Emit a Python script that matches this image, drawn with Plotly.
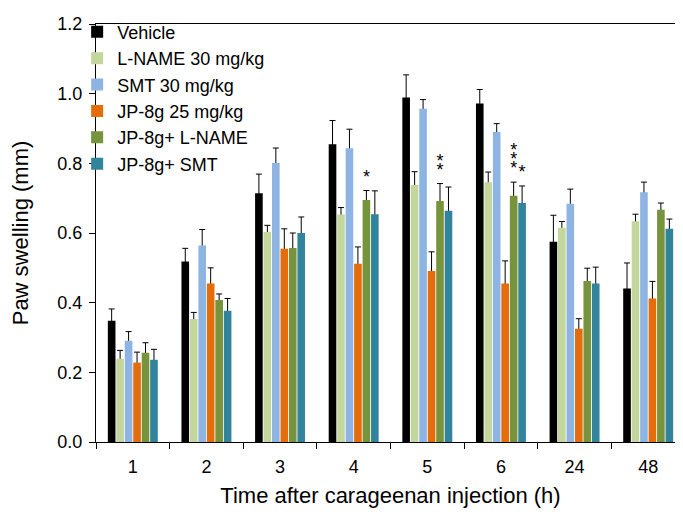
import plotly.graph_objects as go

# time points (h)
hours = ["1", "2", "3", "4", "5", "6", "24", "48"]

vehicle = [0.348, 0.518, 0.714, 0.855, 0.989, 0.972, 0.575, 0.441]
vehicle_err = [0.034, 0.038, 0.055, 0.068, 0.065, 0.040, 0.076, 0.073]

lname = [0.239, 0.353, 0.603, 0.653, 0.738, 0.746, 0.615, 0.634]
lname_err = [0.024, 0.019, 0.019, 0.020, 0.038, 0.029, 0.018, 0.020]

smt = [0.291, 0.564, 0.801, 0.843, 0.957, 0.890, 0.684, 0.717]
smt_err = [0.026, 0.046, 0.043, 0.055, 0.026, 0.024, 0.042, 0.029]

jp8g = [0.228, 0.455, 0.555, 0.512, 0.491, 0.455, 0.325, 0.412]
jp8g_err = [0.030, 0.045, 0.057, 0.048, 0.055, 0.065, 0.029, 0.049]

jp_lname = [0.256, 0.408, 0.557, 0.695, 0.692, 0.707, 0.462, 0.667]
jp_lname_err = [0.029, 0.017, 0.043, 0.027, 0.050, 0.039, 0.037, 0.019]

jp_smt = [0.236, 0.377, 0.600, 0.654, 0.664, 0.686, 0.455, 0.612]
jp_smt_err = [0.030, 0.035, 0.046, 0.067, 0.068, 0.049, 0.047, 0.028]

# number of significance asterisks above each bar
no_sig = [0, 0, 0, 0, 0, 0, 0, 0]
jp_lname_sig = [0, 0, 0, 1, 2, 3, 0, 0]
jp_smt_sig = [0, 0, 0, 0, 0, 1, 0, 0]

series = [
    ("Vehicle", vehicle, vehicle_err, no_sig, "#000000"),
    ("L-NAME 30 mg/kg", lname, lname_err, no_sig, "#C3D69B"),
    ("SMT 30 mg/kg", smt, smt_err, no_sig, "#8EB4E3"),
    ("JP-8g 25 mg/kg", jp8g, jp8g_err, no_sig, "#E46C0A"),
    ("JP-8g+ L-NAME", jp_lname, jp_lname_err, jp_lname_sig, "#77933C"),
    ("JP-8g+ SMT", jp_smt, jp_smt_err, jp_smt_sig, "#31849B"),
]

FONT = "Arial, Liberation Sans, sans-serif"
STAR_DROP = -0.002
STAR_STEP = 0.026

fig = go.Figure()
for i, (name, vals, errs, sig, color) in enumerate(series):
    tops = [v + e for v, e in zip(vals, errs)]
    # invisible carrier for the upper error bar (stem hidden behind the real bar)
    fig.add_trace(go.Bar(
        x=hours, y=tops, offsetgroup=str(i), showlegend=False, hoverinfo="skip",
        marker=dict(color="rgba(0,0,0,0)", line=dict(width=0)),
        error_y=dict(type="data", symmetric=False, array=[0] * len(vals),
                     arrayminus=[t + 0.05 for t in tops],
                     color="#000000", thickness=1, width=3),
    ))
    # visible bars
    fig.add_trace(go.Bar(
        x=hours, y=vals, name=name, offsetgroup=str(i),
        marker=dict(color=color, line=dict(width=0)),
    ))
    # stacked asterisks
    for k in range(max(sig)):
        fig.add_trace(go.Bar(
            x=hours, y=[t - STAR_DROP + k * STAR_STEP for t in tops],
            offsetgroup=str(i), showlegend=False, hoverinfo="skip",
            marker=dict(color="rgba(0,0,0,0)", line=dict(width=0)),
            text=["*" if s > k else "" for s in sig],
            textposition="outside", textangle=0, constraintext="none",
            cliponaxis=False,
            textfont=dict(family=FONT, size=18, color="#000000"),
        ))

fig.update_layout(
    width=683, height=516,
    margin=dict(l=88, r=6, t=13, b=82),
    paper_bgcolor="white", plot_bgcolor="white",
    barmode="group", bargap=0.31, bargroupgap=0.1,
    font=dict(family=FONT, size=18, color="#000000"),
    legend=dict(x=-0.032, y=1.025, xanchor="left", yanchor="top",
                bgcolor="rgba(0,0,0,0)", font=dict(size=18),
                itemwidth=30, tracegroupgap=0),
    showlegend=True,
)

fig.update_xaxes(
    type="category", showline=True, linecolor="#000000", linewidth=1, mirror=True,
    ticks="outside", tickson="boundaries", ticklen=6, tickcolor="#000000",
    showgrid=False, ticklabelstandoff=8, automargin=False,
    tickfont=dict(size=18),
    title=dict(text="Time after carageenan injection (h)", font=dict(size=22), standoff=12),
)
fig.update_yaxes(
    range=[0, 1.2], dtick=0.2, tickformat=".1f",
    showline=True, linecolor="#000000", linewidth=1, mirror=True,
    ticks="outside", ticklen=6, tickcolor="#000000",
    showgrid=False, zeroline=False, ticklabelstandoff=3, automargin=False,
    tickfont=dict(size=18),
    title=dict(text="Paw swelling (mm)", font=dict(size=22), standoff=32),
)

fig.write_html("out.html")
